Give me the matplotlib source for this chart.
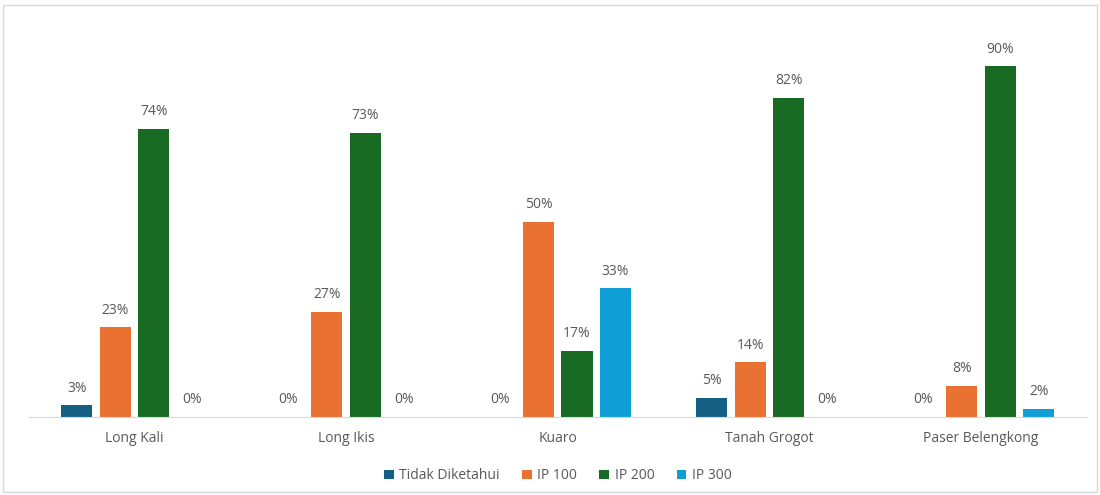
import numpy as np
import matplotlib.pyplot as plt
from matplotlib.patches import Rectangle

plt.rcParams['font.family'] = ['Open Sans', 'DejaVu Sans']

wilayah = ['Long Kali', 'Long Ikis', 'Kuaro', 'Tanah Grogot', 'Paser Belengkong']
tidak_diketahui = [3, 0, 0, 5, 0]
ip100 = [23, 27, 50, 14, 8]
ip200 = [74, 73, 17, 82, 90]
ip300 = [0, 0, 33, 0, 2]

series = [
    ('Tidak Diketahui', tidak_diketahui, '#156082'),
    ('IP 100', ip100, '#E97132'),
    ('IP 200', ip200, '#196B24'),
    ('IP 300', ip300, '#0F9ED5'),
]

fig = plt.figure(figsize=(11, 4.95), dpi=100)
ax = fig.add_axes([0.026, 0.1576, 0.962, 0.787])

# thin frame around the whole chart area
fig.patches.append(Rectangle((0.003, 0.006), 0.994, 0.984, transform=fig.transFigure,
                             fill=False, edgecolor='#d9d9d9', linewidth=1))

x = np.arange(len(wilayah))
step = 0.182
width = 0.147
text_col = '#595959'

for i, (name, vals, col) in enumerate(series):
    pos = x + (i - 1.5) * step
    bars = ax.bar(pos, vals, width=width, color=col, label=name)
    for b, v in zip(bars, vals):
        ax.annotate(f'{v}%', (b.get_x() + b.get_width() / 2, v),
                    xytext=(0, 7), textcoords='offset points',
                    ha='center', va='bottom', fontsize=10, color=text_col)

ax.set_xlim(-0.5, len(wilayah) - 0.5)
ax.set_ylim(0, 100)
ax.set_xticks(x)
ax.set_xticklabels(wilayah, fontsize=10, color=text_col)
ax.tick_params(axis='x', length=0, pad=10)
ax.set_yticks([])
for s in ['top', 'right', 'left']:
    ax.spines[s].set_visible(False)
ax.spines['bottom'].set_color('#d9d9d9')

leg = ax.legend(loc='center', bbox_to_anchor=(0.5, -0.151), ncol=4, frameon=False,
                fontsize=10, handlelength=0.7, handleheight=0.7, handletextpad=0.4,
                columnspacing=1.6)
for t in leg.get_texts():
    t.set_color(text_col)

fig.savefig('out.png', dpi=100)
